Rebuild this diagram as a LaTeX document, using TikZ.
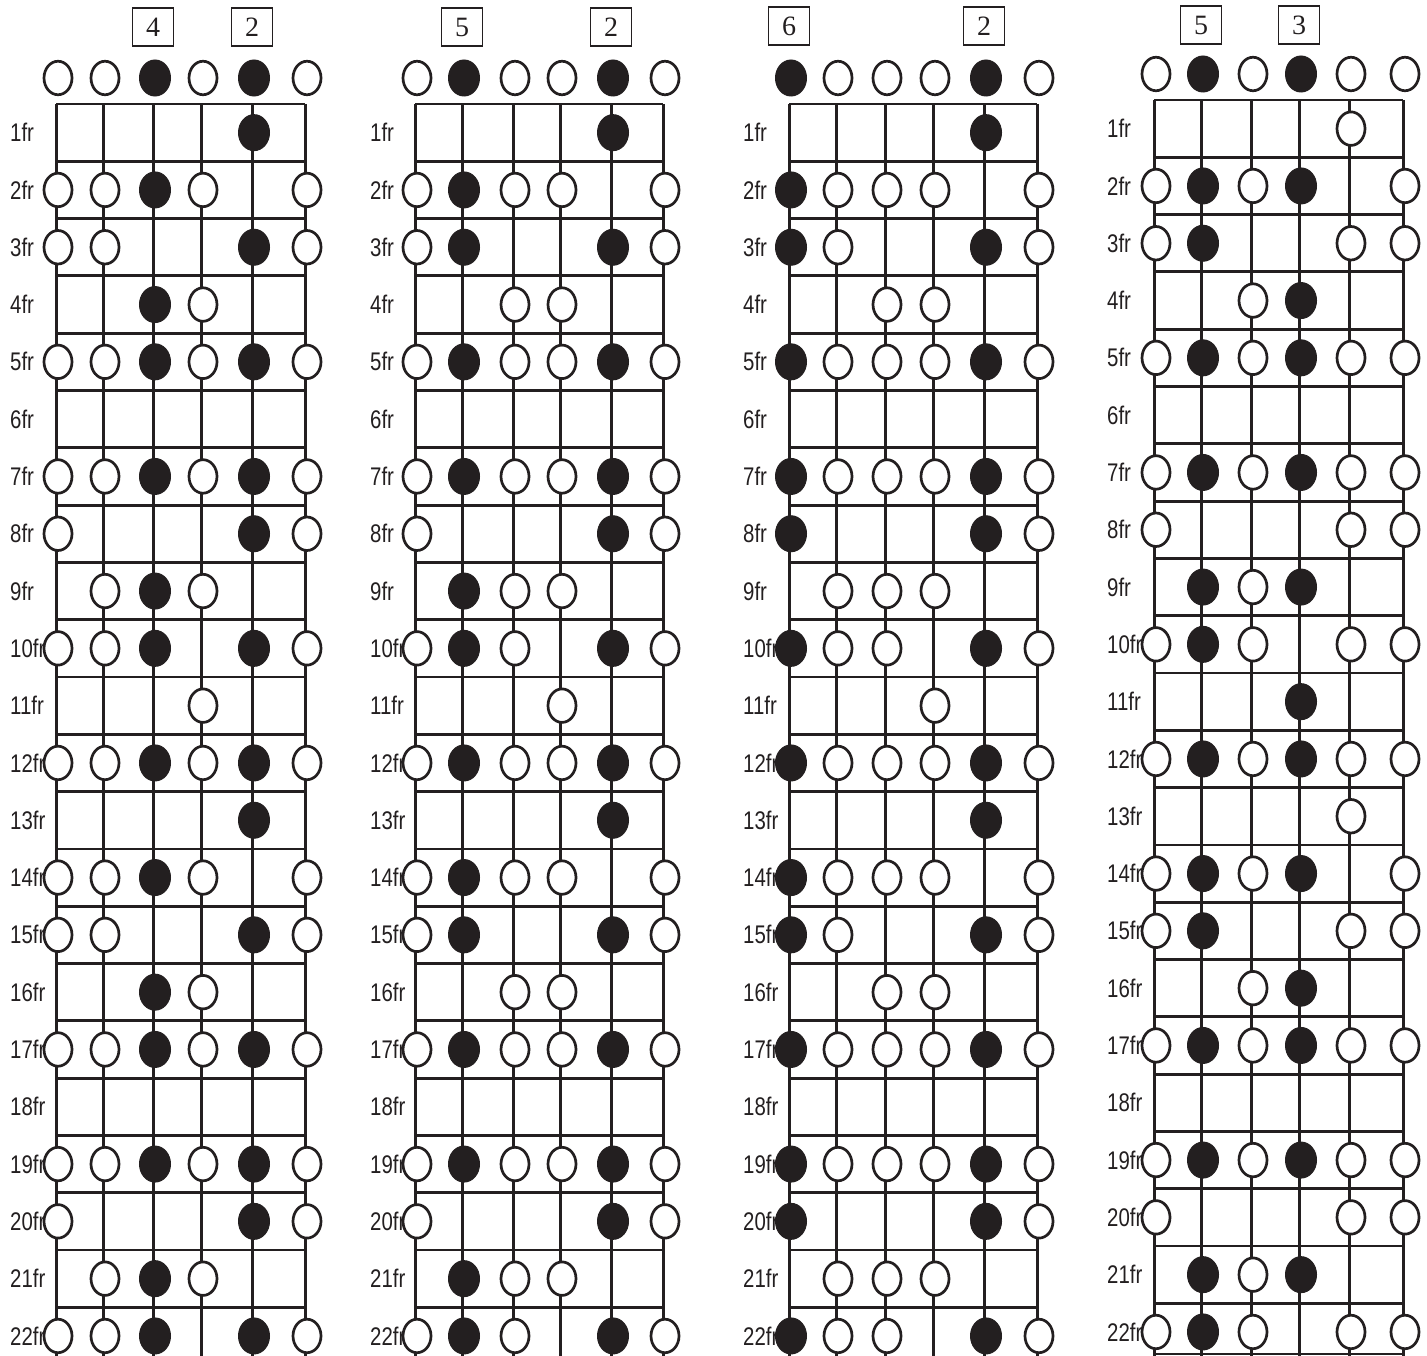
\documentclass[tikz,border=0pt]{standalone}
\usepackage{fontspec}
\setmainfont{Liberation Serif}
\newfontfamily\labfont[FakeStretch=0.8]{Liberation Sans}
\usetikzlibrary{shapes.geometric}
\definecolor{ink}{HTML}{231F20}
% occupancy of notes: row 0 = open strings, rows 1..22 = frets
\def\occ{{1,1,1,1,1,1},{0,0,0,0,1,0},{1,1,1,1,0,1},{1,1,0,0,1,1},{0,0,1,1,0,0},{1,1,1,1,1,1},{0,0,0,0,0,0},{1,1,1,1,1,1},{1,0,0,0,1,1},{0,1,1,1,0,0},{1,1,1,0,1,1},{0,0,0,1,0,0},{1,1,1,1,1,1},{0,0,0,0,1,0},{1,1,1,1,0,1},{1,1,0,0,1,1},{0,0,1,1,0,0},{1,1,1,1,1,1},{0,0,0,0,0,0},{1,1,1,1,1,1},{1,0,0,0,1,1},{0,1,1,1,0,0},{1,1,1,0,1,1}}
\tikzset{
  stringline/.style={draw=ink, line width=3pt},
  fretline/.style={draw=ink, line width=2.8pt, line cap=square},
  frlabel/.style={anchor=west, inner sep=0pt, text=ink, font=\labfont\fontsize{25.5}{25.5}\selectfont},
  opennote/.style={ellipse, draw=ink, fill=white, line width=2.7pt, minimum width=28pt, minimum height=33.5pt, inner sep=0pt},
  rootnote/.style={ellipse, draw=ink, fill=ink, line width=1pt, minimum width=31pt, minimum height=36pt, inner sep=0pt},
  numbox/.style={draw=ink, line width=1.6pt, minimum width=41pt, minimum height=38pt, inner sep=0pt, text=ink, font=\fontsize{28}{28}\selectfont},
}
% #1 prefix, #2 string x list, #3 top y, #4 #5 filled strings, #6 label x, #7 box offset, #8 #9 box digits
\newcommand\board[9]{%
  \foreach \xx [count=\s] in {#2} {
    \coordinate (#1-t\s) at (\xx,#3);
    \draw[stringline] (#1-t\s) -- (\xx,1356) coordinate (#1-b\s);
  }
  \foreach \k in {0,...,21} {
    \draw[fretline] ([yshift=-\k*57.3pt]#1-t1) -- ([yshift=-\k*57.3pt]#1-t6);
  }
  \foreach \r in {1,...,22} {
    \pgfmathsetmacro\yy{#3+(\r-0.5)*57.3}
    \node[frlabel] (#1-l\r) at (#6,\yy) {\r fr};
  }
  \foreach \row [count=\r from 0] in \occ {
    \pgfmathsetmacro\dy{\r==0 ? -26 : (\r-0.5)*57.3}
    \foreach \v [count=\s] in \row {
      \ifnum\v=1
        \pgfmathtruncatemacro\isroot{(\s==#4)||(\s==#5)}
        \ifnum\isroot=1
          \node[rootnote] (#1-n\r-\s) at ([shift={(2,\dy)}]#1-t\s) {};
        \else
          \node[opennote] (#1-n\r-\s) at ([shift={(2,\dy)}]#1-t\s) {};
        \fi
      \fi
    }
  }
  \node[numbox] (#1-boxa) at ([yshift=#7pt]#1-t#4) {#8};
  \node[numbox] (#1-boxb) at ([yshift=#7pt]#1-t#5) {#9};
}
\begin{document}
\begin{tikzpicture}[x=1pt,y=-1pt]
\useasboundingbox (0,0) rectangle (1427,1356);
\board{A}{56,103,153,201,252,305}{104}{3}{5}{10}{77}{4}{2}
\board{B}{415,462,513,560,611,663}{104}{2}{5}{370}{77}{5}{2}
\board{C}{789,836,885,933,984,1037}{104}{1}{5}{743}{78}{6}{2}
\board{D}{1154,1201,1251,1299,1349,1403}{100}{2}{4}{1107}{75}{5}{3}
\draw[fretline] ([yshift=-1254pt]D-t1) -- ([yshift=-1254pt]D-t6);
\end{tikzpicture}
\end{document}
